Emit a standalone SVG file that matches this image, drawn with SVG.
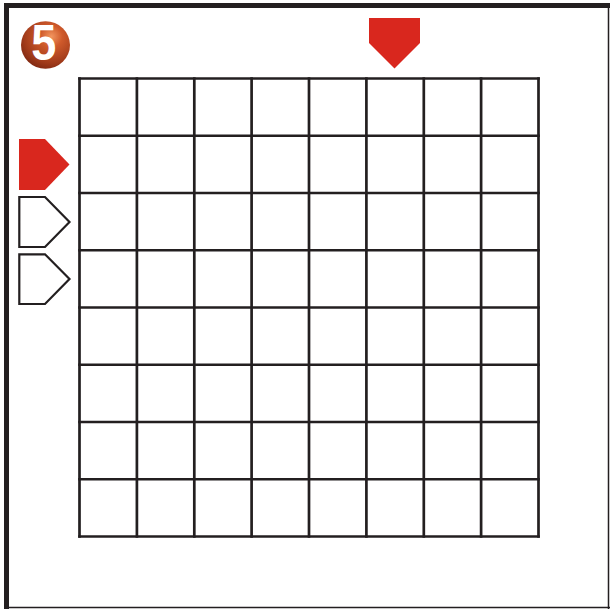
<svg xmlns="http://www.w3.org/2000/svg" width="610" height="609" viewBox="0 0 610 609">
<defs>
<radialGradient id="ball" cx="0.62" cy="0.32" r="0.75">
<stop offset="0" stop-color="#f2955f"/>
<stop offset="0.3" stop-color="#cf5a2b"/>
<stop offset="0.75" stop-color="#a03a1a"/>
<stop offset="1" stop-color="#7c2610"/>
</radialGradient>
</defs>
<style>
.grid line{stroke:#231f20;stroke-width:2.7}
.red{fill:#d9271e}
.out{fill:#fff;stroke:#231f20;stroke-width:2.2}
</style>
<rect width="610" height="609" fill="#fff"/>
<g id="frame">
<line x1="6.5" y1="3" x2="6.5" y2="609" stroke="#231f20" stroke-width="5"/>
<line x1="4" y1="5.5" x2="610" y2="5.5" stroke="#231f20" stroke-width="5"/>
<line x1="608.5" y1="3" x2="608.5" y2="609" stroke="#231f20" stroke-width="1.5"/>
<line x1="4" y1="607.5" x2="610" y2="607.5" stroke="#231f20" stroke-width="1.5"/>
</g>
<g id="badge">
<ellipse cx="45.5" cy="45" rx="24.5" ry="23.8" fill="url(#ball)"/>
<text transform="translate(43.7,60) scale(0.9,1)" x="0" y="0" font-family="Liberation Sans, Arial, sans-serif" font-weight="bold" font-size="50" fill="#fff" text-anchor="middle">5</text>
</g>
<g id="grid" class="grid">
<line x1="79.5" y1="77.2" x2="79.5" y2="537.8"/>
<line x1="136.9" y1="77.2" x2="136.9" y2="537.8"/>
<line x1="194.3" y1="77.2" x2="194.3" y2="537.8"/>
<line x1="251.6" y1="77.2" x2="251.6" y2="537.8"/>
<line x1="309" y1="77.2" x2="309" y2="537.8"/>
<line x1="366.4" y1="77.2" x2="366.4" y2="537.8"/>
<line x1="423.8" y1="77.2" x2="423.8" y2="537.8"/>
<line x1="481.1" y1="77.2" x2="481.1" y2="537.8"/>
<line x1="538.5" y1="77.2" x2="538.5" y2="537.8"/>
<line x1="78.2" y1="78.5" x2="539.8" y2="78.5"/>
<line x1="78.2" y1="135.75" x2="539.8" y2="135.75"/>
<line x1="78.2" y1="193" x2="539.8" y2="193"/>
<line x1="78.2" y1="250.25" x2="539.8" y2="250.25"/>
<line x1="78.2" y1="307.5" x2="539.8" y2="307.5"/>
<line x1="78.2" y1="364.75" x2="539.8" y2="364.75"/>
<line x1="78.2" y1="422" x2="539.8" y2="422"/>
<line x1="78.2" y1="479.25" x2="539.8" y2="479.25"/>
<line x1="78.2" y1="536.5" x2="539.8" y2="536.5"/>
</g>
<g id="arrow-top">
<polygon class="red" points="369,18 420,18 420,43 394.5,68.5 369,43"/>
</g>
<g id="arrow-left-1">
<polygon class="red" points="19,139 45,139 69.5,164.5 45,190 19,190"/>
</g>
<g id="arrow-left-2">
<polygon class="out" points="19.3,197 45,197 69.5,222 45,247 19.3,247"/>
</g>
<g id="arrow-left-3">
<polygon class="out" points="19.3,254.3 45,254.3 69.5,279 45,304 19.3,304"/>
</g>
</svg>
